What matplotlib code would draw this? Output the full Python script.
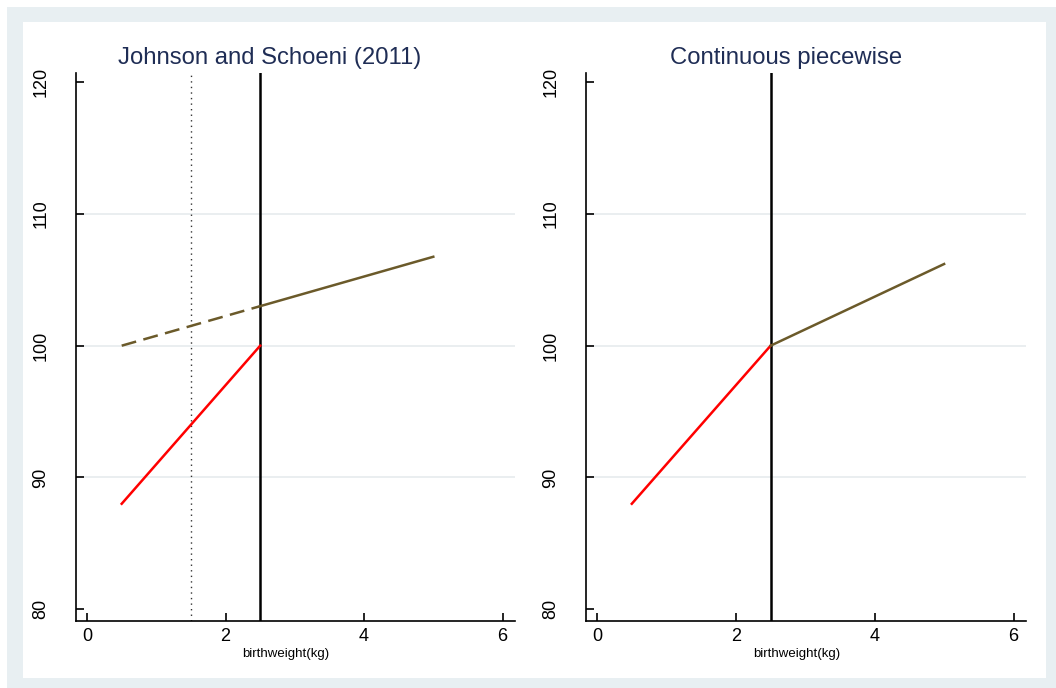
import matplotlib
matplotlib.use("Agg")
import matplotlib.pyplot as plt
from matplotlib.patches import Rectangle

plt.rcParams['font.family'] = ['Liberation Sans', 'DejaVu Sans']

# Data
titles = ["Johnson and Schoeni (2011)", "Continuous piecewise"]
x_below = [0.5, 2.5]
left_red = [88.0, 100.0]
left_dash_x = [0.5, 2.5]
left_dash_y = [100.0, 103.0]
left_above_x = [2.5, 5.0]
left_above_y = [103.0, 106.75]
right_red = [88.0, 100.0]
right_above_x = [2.5, 5.0]
right_above_y = [100.0, 106.2]
cutoff = 2.5
dotted_x = 1.5
xticks = [0, 2, 4, 6]
yticks = [80, 90, 100, 110, 120]
grid_y = [90, 100, 110]
xlabel = "birthweight(kg)"

RED = "#ff0000"
BROWN = "#6b5a2a"
NAVY = "#1f2d55"
BG = "#e8eff2"

fig = plt.figure(figsize=(10.56, 6.88), dpi=100)
W, H = 1056, 688
fig.patches.append(Rectangle((7 / W, 0), 1 - 7 / W, 1 - 7 / H, transform=fig.transFigure,
                             facecolor=BG, edgecolor='none', zorder=-10))
fig.patches.append(Rectangle((23 / W, 10 / H), (1046 - 23) / W, (666 - 10) / H,
                             transform=fig.transFigure, facecolor='white',
                             edgecolor='none', zorder=-9))

def make_ax(x0, x1):
    y0, y1 = 73, 621
    return fig.add_axes([x0 / W, 1 - y1 / H, (x1 - x0) / W, (y1 - y0) / H])

axes = [make_ax(76, 515), make_ax(586, 1026)]
title_cx = [270, 786]

for i, ax in enumerate(axes):
    ax.set_facecolor('none')
    ax.set_xlim(-0.16, 6.18)
    ax.set_ylim(79.1, 120.7)
    for s in ['top', 'right']:
        ax.spines[s].set_visible(False)
    for s in ['left', 'bottom']:
        ax.spines[s].set_linewidth(1.2)
        ax.spines[s].set_color('black')
    ax.set_xticks(xticks)
    ax.set_yticks(yticks)
    ax.tick_params(direction='in', length=6, width=1.2, labelsize=13)
    ax.tick_params(axis='x', pad=5)
    ax.tick_params(axis='y', labelrotation=90, pad=19)
    for lab in ax.get_yticklabels():
        lab.set_va('center')
    for g in grid_y:
        ax.axhline(g, color='#e6ebee', lw=1.2, zorder=0)
    ax.set_xlabel(xlabel, fontsize=9.5)
    ax.xaxis.set_label_coords(0.478, -0.06)
    ax.xaxis.label.set_va('center')
    fig.text(title_cx[i] / W, 1 - 64 / H, titles[i], fontsize=17.2, color=NAVY,
             ha='center', va='baseline')
    ax.axvline(cutoff, color='black', lw=1.8, zorder=3)

ax = axes[0]
ax.axvline(dotted_x, color='#333333', lw=1.0, ls=(0, (1, 3)), zorder=1)
ax.plot(x_below, left_red, color=RED, lw=1.8, zorder=4)
ax.plot(left_dash_x, left_dash_y, color=BROWN, lw=1.8, ls=(0, (6, 3)), zorder=4)
ax.plot(left_above_x, left_above_y, color=BROWN, lw=1.8, zorder=4)

ax = axes[1]
ax.plot(x_below, right_red, color=RED, lw=1.8, zorder=4)
ax.plot(right_above_x, right_above_y, color=BROWN, lw=1.8, zorder=4)

fig.savefig("out.png", dpi=100)
